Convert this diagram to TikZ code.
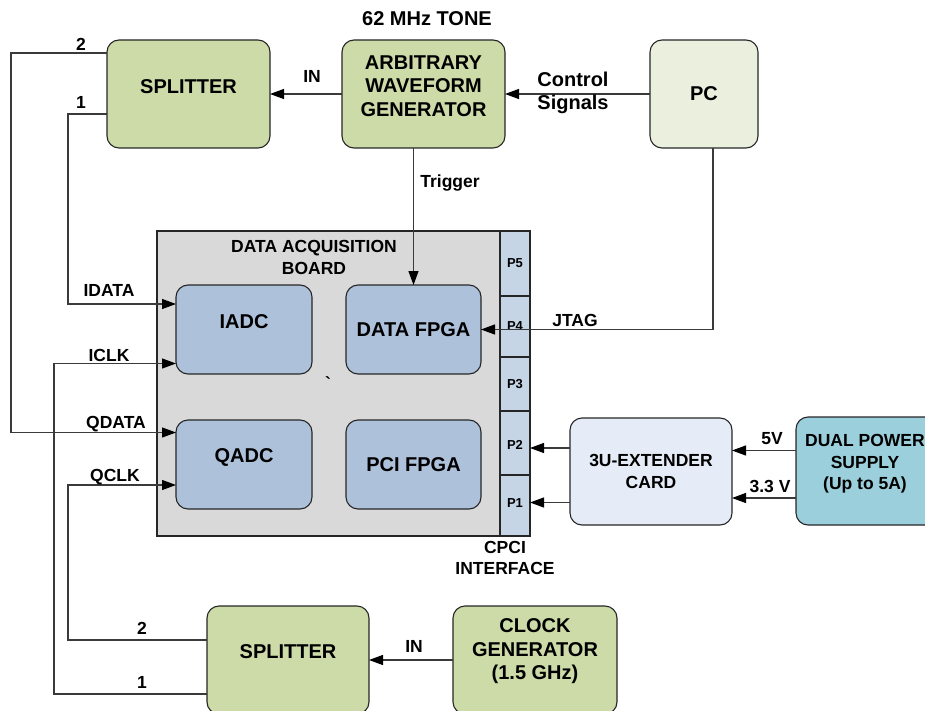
\documentclass[tikz,border=0pt]{standalone}
\usepackage{fontspec}
\setmainfont{Liberation Sans}
\usetikzlibrary{arrows.meta,calc}
\definecolor{grn}{HTML}{CCDBA8}
\definecolor{pcfill}{HTML}{EBF0DE}
\definecolor{daqfill}{HTML}{D9D9D9}
\definecolor{adcfill}{HTML}{ADC1DA}
\definecolor{stripfill}{HTML}{C6D5E6}
\definecolor{extfill}{HTML}{E6ECF7}
\definecolor{psufill}{HTML}{9BCFDC}
\definecolor{wire}{HTML}{3A3A3A}
\newcommand\fszA{\fontsize{20}{23.5}\selectfont\bfseries}
\newcommand\fszB{\fontsize{17.5}{21.5}\selectfont\bfseries}
\newcommand\fszC{\fontsize{13}{15}\selectfont\bfseries}
\begin{document}
\begin{tikzpicture}[x=1pt,y=-1pt,font=\bfseries,
  box/.style={draw=black!85,line width=1.1pt,rounded corners=12pt,inner sep=0pt,outer sep=0pt},
  sqbox/.style={draw=black!85,line width=1.1pt,inner sep=0pt,outer sep=0pt},
  txt/.style={inner sep=0pt,outer sep=0pt,align=center},
  arr/.style={draw=wire,line width=1.2pt,-{Triangle[length=14pt,width=10pt,color=black]}},
  ln/.style={draw=wire,line width=1.2pt}]
\useasboundingbox (0,0) rectangle (925,711);
% DAQ board and strip
\node[sqbox,fill=daqfill,minimum width=343,minimum height=305] (daq) at (328.5,383.5) {};
\node[txt,font=\fszB] (daqt) at (314,257.5) {DATA ACQUISITION\\BOARD};
\node[sqbox,fill=stripfill,minimum width=30,minimum height=65] (p5) at (515,263.5) {};
\node[sqbox,fill=stripfill,minimum width=30,minimum height=61] (p4) at (515,326.5) {};
\node[sqbox,fill=stripfill,minimum width=30,minimum height=54] (p3) at (515,384) {};
\node[sqbox,fill=stripfill,minimum width=30,minimum height=64] (p2) at (515,443) {};
\node[sqbox,fill=stripfill,minimum width=30,minimum height=61] (p1) at (515,505.5) {};
\node[txt,font=\fszC] (p5t) at (p5) {P5};
\node[txt,font=\fszC] (p4t) at (515,326) {P4};
\node[txt,font=\fszC] (p3t) at (p3) {P3};
\node[txt,font=\fszC] (p2t) at (515,445) {P2};
\node[txt,font=\fszC] (p1t) at (515,503) {P1};
\node[txt,font=\fszB] (cpci) at (505,558) {CPCI\\INTERFACE};
% inner blocks
\node[box,fill=adcfill,minimum width=136,minimum height=89] (iadc) at (244,329.5) {};
\node[txt,font=\fszA] at ([yshift=8]iadc.center) {IADC};
\node[box,fill=adcfill,minimum width=136,minimum height=89] (qadc) at (244,464.5) {};
\node[txt,font=\fszA] at ([yshift=7.5]qadc.center) {QADC};
\node[box,fill=adcfill,minimum width=135,minimum height=89] (dfpga) at (413.5,329.5) {};
\node[txt,font=\fszA] at (dfpga.center) {DATA FPGA};
\node[box,fill=adcfill,minimum width=135,minimum height=89] (pfpga) at (413.5,464.5) {};
\node[txt,font=\fszA] at (pfpga.center) {PCI FPGA};
\node[txt,font=\fszB] (tick) at (328,383) {\textasciigrave};
% top row
\node[box,fill=grn,minimum width=163,minimum height=108] (spl1) at (188.5,94) {};
\node[txt,font=\fszA] at ([yshift=7]spl1.center) {SPLITTER};
\node[box,fill=grn,minimum width=163,minimum height=108] (awg) at (423.5,94) {};
\node[txt,font=\fszA] at ([yshift=8]awg.center) {ARBITRARY\\WAVEFORM\\GENERATOR};
\node[txt,font=\fszA] (tone) at (427,19) {62 MHz TONE};
\node[box,fill=pcfill,minimum width=108,minimum height=108] (pc) at (704,94) {};
\node[txt,font=\fszA] at (pc.center) {PC};
% extender and psu
\node[box,fill=extfill,minimum width=162,minimum height=107] (ext) at (651,471.5) {};
\node[txt,font=\fszB] at (ext.center) {3U-EXTENDER\\CARD};
\node[box,fill=psufill,minimum width=150,minimum height=108] (psu) at (871,471) {};
\node[txt,font=\fszB] at (865,464) {DUAL POWER\\SUPPLY\\(Up to 5A)};
% bottom row
\node[box,fill=grn,minimum width=162,minimum height=108] (spl2) at (288,660) {};
\node[txt,font=\fszA] at ([yshift=8]spl2.center) {SPLITTER};
\node[box,fill=grn,minimum width=164,minimum height=108] (clk) at (535,660) {};
\node[txt,font=\fszA] at ([yshift=8.5]clk.center) {CLOCK\\GENERATOR\\(1.5 GHz)};
% connectors
\draw[arr] (awg.west) -- (spl1.east);
\node[txt,font=\fszB] (inA) at (312,76) {IN};
\draw[arr] (pc.west) -- (awg.east);
\node[txt,font=\fszA,align=left] (ctl) at (573,93) {Control\\Signals};
\draw[arr] (awg.south -| dfpga.north) -- (dfpga.north);
\node[txt,font=\fszB] (trig) at (450,183) {Trigger};
\draw[arr] ([xshift=9]pc.south) |- (dfpga.east);
\node[txt,font=\fszB] (jtag) at (575,320) {JTAG};
\draw[arr] ([yshift=-20]spl1.west) -- ++(-39,0) |- ([yshift=25.5]iadc.west);
\node[txt,font=\fszB] at (81,102) {1};
\node[txt,font=\fszB] (idata) at (109,290) {IDATA};
\draw[arr] ([yshift=41]spl1.west) -- ++(-96,0) |- ([yshift=32]qadc.west);
\node[txt,font=\fszB] at (81,44) {2};
\node[txt,font=\fszB] (qdata) at (116,424) {QDATA};
\draw[arr] ([yshift=-34]spl2.west) -- ++(-153,0) |- ([yshift=-34]iadc.west);
\node[txt,font=\fszB] at (142,682) {1};
\node[txt,font=\fszB] (iclk) at (109,355) {ICLK};
\draw[arr] ([yshift=20]spl2.west) -- ++(-139,0) |- ([yshift=-20.5]qadc.west);
\node[txt,font=\fszB] at (142,628) {2};
\node[txt,font=\fszB] (qclk) at (115,477) {QCLK};
\draw[arr] (clk.west) -- (spl2.east);
\node[txt,font=\fszB] (inB) at (414,646) {IN};
\draw[arr] ([yshift=23.5]ext.west) -- ([yshift=23.5]ext.west -| p2.east);
\draw[arr] ([yshift=-31]ext.west) -- ([yshift=-31]ext.west -| p1.east);
\draw[arr] ([yshift=20.5]psu.west) -- ([yshift=20.5]psu.west -| ext.east);
\draw[arr] ([yshift=-27]psu.west) -- ([yshift=-27]psu.west -| ext.east);
\node[txt,font=\fszB] (v5) at (772,439) {5V};
\node[txt,font=\fszB] (v33) at (770,486) {3.3 V};
\end{tikzpicture}
\end{document}
